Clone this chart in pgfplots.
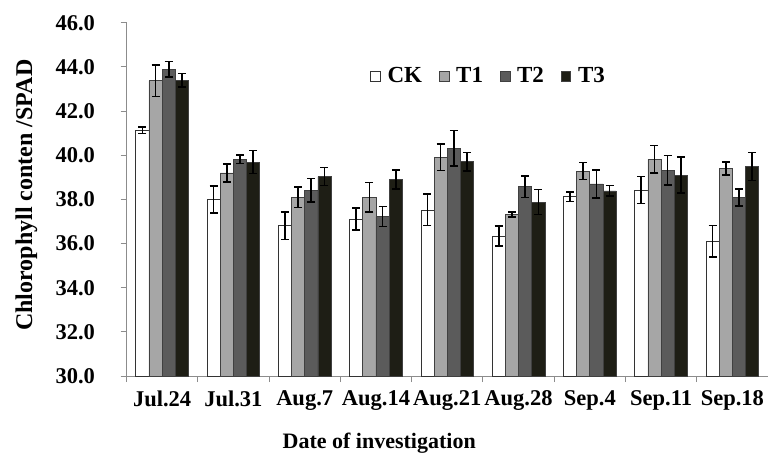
\documentclass[border=0pt]{standalone}
\usepackage{fontspec}
\setmainfont{Liberation Serif}
\usepackage{pgfplots}
\usepackage{pgfplotstable}
\pgfplotsset{compat=1.18}
\definecolor{cT1}{HTML}{A6A6A6}
\definecolor{cT2}{HTML}{5B5B5B}
\definecolor{cT3}{HTML}{1E1E15}
\definecolor{axgray}{HTML}{8C8C8C}
\pgfplotstableread{
x CK CKe T1 T1e T2 T2e T3 T3e
0 41.13 0.15 43.37 0.72 43.89 0.36 43.40 0.30
1 38.00 0.61 39.20 0.41 39.81 0.19 39.69 0.52
2 36.81 0.62 38.09 0.46 38.41 0.53 39.03 0.41
3 37.10 0.50 38.09 0.67 37.22 0.45 38.90 0.44
4 37.52 0.71 39.90 0.60 40.31 0.80 39.71 0.42
5 36.33 0.45 37.32 0.12 38.57 0.48 37.88 0.57
6 38.12 0.21 39.28 0.39 38.70 0.64 38.38 0.24
7 38.42 0.61 39.81 0.63 39.31 0.67 39.10 0.82
8 36.10 0.72 39.40 0.29 38.09 0.39 39.49 0.63
}\data
\begin{document}
\begin{tikzpicture}
\begin{axis}[
  scale only axis,
  width=641.5pt, height=353.3pt,
  xmin=-0.5, xmax=8.5,
  ymin=30, ymax=46,
  ybar=0pt, bar width=13.2pt,
  axis x line*=bottom, axis y line*=left,
  axis line style={axgray, line width=0.8pt},
  tick style={axgray, line width=0.8pt},
  tick align=outside, major tick length=6pt,
  xtick={-0.5,0.5,...,8.5},
  x tick label as interval,
  xticklabels={Jul.24,Jul.31,Aug.7,Aug.14,Aug.21,Aug.28,Sep.4,Sep.11,Sep.18},
  ytick={30,32,...,46},
  /pgf/number format/.cd, fixed, fixed zerofill, precision=1, assume math mode=true,
  /pgfplots/.cd,
  ticklabel style={font=\bfseries\fontsize{22.5}{26}\selectfont, text=black},
  yticklabel style={xshift=-22pt},
  xticklabel style={yshift=-5pt},
  xlabel={Date of investigation},
  ylabel={Chlorophyll conten /SPAD},
  xlabel style={at={(axis description cs:0.394,-0.19)}, anchor=center, font=\bfseries\fontsize{22}{25}\selectfont},
  ylabel style={at={(axis description cs:-0.156,0.512)}, anchor=center, rotate=0, font=\bfseries\fontsize{24}{28}\selectfont},
  legend columns=4,
  legend style={at={(axis description cs:0.38,0.849)}, anchor=west, draw=none, fill=none,
    font=\bfseries\fontsize{23}{26}\selectfont,
    /tikz/every odd column/.append style={column sep=5pt},
    /tikz/every even column/.append style={column sep=15pt},
    inner sep=0pt},
  legend image code/.code={\draw[#1, line width=0.6pt] (0pt,-4.8pt) rectangle (9.5pt,4.8pt);},
  error bars/y dir=both, error bars/y explicit,
  error bars/error bar style={black, line width=1.6pt},
  error bars/error mark options={rotate=90, black, line width=1.6pt, mark size=4pt},
  clip=false,
]
\addplot[fill=white, draw=black!80, line width=0.7pt] table[x=x, y=CK, y error=CKe] {\data};
\addplot[fill=cT1, draw=black!75, line width=0.7pt] table[x=x, y=T1, y error=T1e] {\data};
\addplot[fill=cT2, draw=black!75, line width=0.7pt] table[x=x, y=T2, y error=T2e] {\data};
\addplot[fill=cT3, draw=black!75, line width=0.7pt] table[x=x, y=T3, y error=T3e] {\data};
\legend{CK,T1,T2,T3}
\coordinate (SW) at (rel axis cs:0,0);
\coordinate (NE) at (rel axis cs:1,1);
\end{axis}
\pgfresetboundingbox
\path[use as bounding box] ([xshift=-126.5pt,yshift=-76pt]SW) rectangle ([yshift=22.7pt]NE);
\end{tikzpicture}
\end{document}
